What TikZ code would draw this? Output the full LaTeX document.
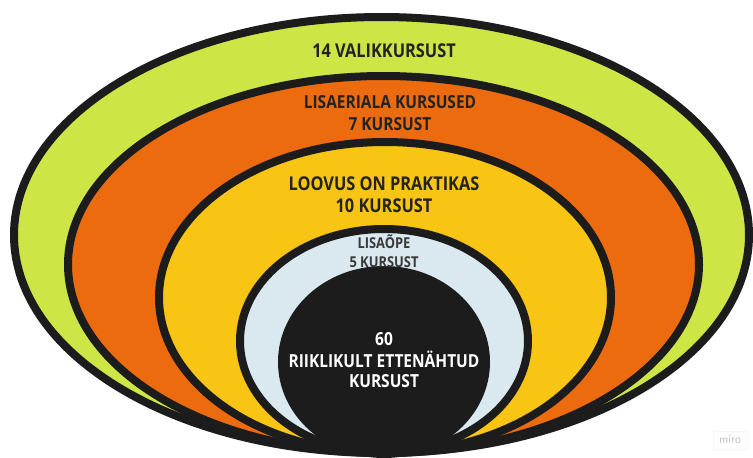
\documentclass[tikz,border=0pt]{standalone}
\usepackage{fontspec}
\usetikzlibrary{shapes.geometric}
\newfontfamily\labfont[FakeStretch=0.86]{Open Sans}
\definecolor{cgreen}{HTML}{CDE646}
\definecolor{corange}{HTML}{EC6B0F}
\definecolor{cyellow}{HTML}{F8C514}
\definecolor{cblue}{HTML}{DAE8F0}
\definecolor{cblack}{HTML}{1C1C1C}
\definecolor{ctext}{HTML}{232323}
\tikzset{
  ring/.style={ellipse, draw=cblack, line width=8pt, inner sep=0pt, outer sep=0pt},
  lab/.style={anchor=base, inner sep=0pt, text=ctext, font=\labfont\bfseries\fontsize{18}{21}\selectfont},
  labbig/.style={lab, font=\labfont\bfseries\fontsize{19}{22}\selectfont},
  labsmall/.style={lab, font=\labfont\bfseries\fontsize{15}{18}\selectfont, text=ctext!90},
  labwhite/.style={lab, text=white}
}
\begin{document}
\begin{tikzpicture}[x=1pt, y=-1pt]
\useasboundingbox (0,0) rectangle (753,458);
\fill[white] (0,0) rectangle (753,458);
\node[ring, fill=cgreen,  minimum width=735pt, minimum height=436pt] (green)  at (381.5,235) {};
\node[ring, fill=corange, minimum width=631pt, minimum height=377pt] (orange) at (383.5,264.5) {};
\node[ring, fill=cyellow, minimum width=452pt, minimum height=311pt] (yellow) at (385,297.5) {};
\node[ring, fill=cblue,   minimum width=288pt, minimum height=224pt] (blue)   at (384,341) {};
\node[ring, fill=cblack,  minimum width=204pt, minimum height=184pt] (core)   at (384,362) {};

\node[labbig] (t1) at (384,57) {14 VALIKKURSUST};
\node[lab] (t2a) at (390,108) {LISAERIALA KURSUSED};
\node[lab] (t2b) at (390,130) {7 KURSUST};
\node[labbig] (t3a) at (384,190) {LOOVUS ON PRAKTIKAS};
\node[labbig] (t3b) at (384,212) {10 KURSUST};
\node[labsmall] (t4a) at (384,248) {LISAÕPE};
\node[labsmall] (t4b) at (384,267) {5 KURSUST};
\node[labwhite] (t5a) at (384,345) {60};
\node[labwhite] (t5b) at (384,367) {RIIKLIKULT ETTENÄHTUD};
\node[labwhite] (t5c) at (384,387) {KURSUST};

\node[draw=gray!6, fill=white, inner sep=2pt, minimum width=34pt, minimum height=18pt,
      text=gray!50, font=\fontsize{12}{14}\selectfont\sffamily] (miro) at (730,440) {miro};
\end{tikzpicture}
\end{document}
